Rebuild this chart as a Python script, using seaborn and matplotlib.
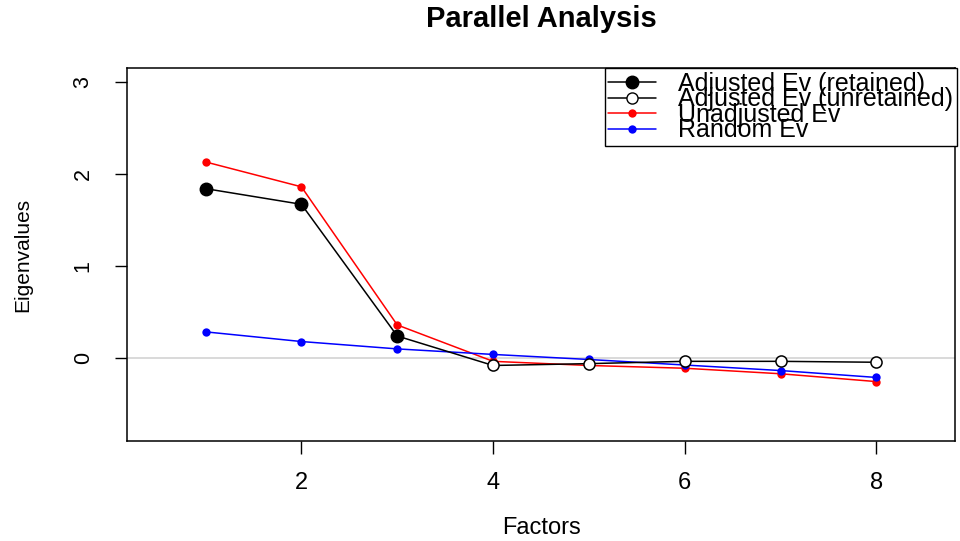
import matplotlib
matplotlib.use("Agg")
import matplotlib.pyplot as plt
from matplotlib.lines import Line2D
import pandas as pd
import seaborn as sns

factors = [1, 2, 3, 4, 5, 6, 7, 8]
adjusted_ev = [1.84, 1.67, 0.24, -0.08, -0.06, -0.035, -0.035, -0.045]
unadjusted_ev = [2.13, 1.86, 0.36, -0.035, -0.08, -0.11, -0.17, -0.255]
random_ev = [0.285, 0.18, 0.10, 0.04, -0.015, -0.075, -0.135, -0.21]
n_retained = 3

legend_labels = ["Adjusted Ev (retained)", "Adjusted Ev (unretained)",
                 "Unadjusted Ev", "Random Ev"]

sns.set_style("white")
plt.rcParams["font.family"] = ["Liberation Sans", "DejaVu Sans"]
plt.rcParams["text.color"] = "black"
plt.rcParams["axes.labelcolor"] = "black"

df = pd.DataFrame({"factor": factors, "adjusted": adjusted_ev,
                   "unadjusted": unadjusted_ev, "random": random_ev})
df["retained"] = df["factor"] <= n_retained

fig = plt.figure(figsize=(9.6, 5.41), dpi=100)
ax = fig.add_axes([127 / 960, 1 - 441 / 541, (955 - 127) / 960, (441 - 68) / 541])

ax.axhline(0, color="#D3D3D3", lw=1.2, zorder=1)

sns.lineplot(data=df, x="factor", y="unadjusted", color="red", lw=1.1, ax=ax,
             marker="o", markersize=6, markeredgewidth=0, zorder=3)
sns.lineplot(data=df, x="factor", y="random", color="blue", lw=1.1, ax=ax,
             marker="o", markersize=6, markeredgewidth=0, zorder=3)
sns.lineplot(data=df, x="factor", y="adjusted", color="black", lw=1.1, ax=ax, zorder=4)

ret = df[df["retained"]]
unret = df[~df["retained"]]
ax.plot(ret["factor"], ret["adjusted"], "o", color="black", ms=9, zorder=5)
ax.plot(unret["factor"], unret["adjusted"], "o", mfc="white", mec="black",
        mew=1.1, ms=8, zorder=5)

ax.set_xlim(0.18, 8.82)
ax.set_ylim(-0.9, 3.15)
ax.set_xticks([2, 4, 6, 8])
ax.set_yticks([0, 1, 2, 3])
for s in ax.spines.values():
    s.set_color("black")
    s.set_linewidth(1.1)
ax.tick_params(axis="both", direction="out", length=9, width=1, color="black",
               labelcolor="black", bottom=True, left=True)
ax.tick_params(axis="x", labelsize=17, pad=13)
ax.tick_params(axis="y", labelsize=15.5, pad=15, labelrotation=90)
for lab in ax.get_yticklabels():
    lab.set_va("center")

ax.set_xlabel("Factors", fontsize=17, va="center")
ax.xaxis.set_label_coords(0.5, (441 - 528) / 373)
ax.set_ylabel("Eigenvalues", fontsize=15, va="center")
ax.yaxis.set_label_coords((23 - 127) / 828, 0.5)
ax.set_title("Parallel Analysis", fontsize=21, fontweight="bold",
             y=(441 - 19) / 373, pad=0, va="center")

handles = [
    Line2D([], [], color="black", lw=1.1, marker="o", ms=9),
    Line2D([], [], color="black", lw=1.1, marker="o", ms=8, mfc="white", mec="black"),
    Line2D([], [], color="red", lw=1.1, marker="o", ms=6, mew=0),
    Line2D([], [], color="blue", lw=1.1, marker="o", ms=6, mew=0),
]
leg = fig.legend(handles, legend_labels, loc="upper right",
                 bbox_to_anchor=(957 / 960, 1 - 68 / 541), borderaxespad=0,
                 fontsize=18, labelspacing=-0.34, handlelength=1.9,
                 handletextpad=0.9, borderpad=0.15, fancybox=False,
                 framealpha=1, edgecolor="black")
leg.get_frame().set_linewidth(1.0)

fig.savefig("out.png", dpi=100)
